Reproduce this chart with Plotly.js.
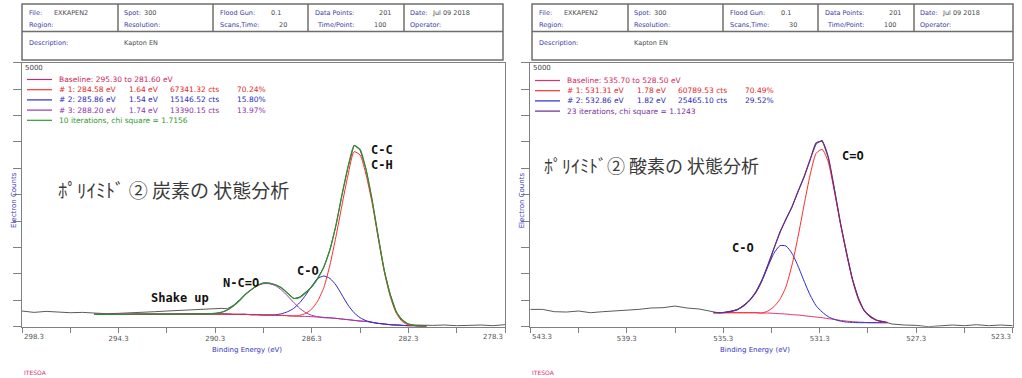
<!DOCTYPE html>
<html><head><meta charset="utf-8">
<script src="https://cdn.plot.ly/plotly-3.0.1.min.js"></script>
<style>html,body{margin:0;padding:0;background:#fff}#chart{width:1022px;height:378px}</style>
</head><body><div id="chart"></div>
<script>
// ---------------- DATA : C 1s panel ----------------
const c1sRawE = [298.30,297.80,297.30,296.80,296.30,295.80,295.30,294.80,294.30,293.80,293.30,292.80,292.30,291.80,291.30,290.80,290.55,
  290.30,290.05,289.80,289.55,289.30,289.05,288.80,288.55,288.30,288.05,287.80,287.55,287.30,287.05,286.80,286.55,286.30,286.05,285.80,285.55,
  285.30,285.05,284.80,284.55,284.30,284.05,283.80,283.55,283.30,283.05,282.80,282.55,282.30,282.05,281.80,281.55,
  281.30,280.80,280.30,279.80,279.30,278.80,278.30];
const c1sRaw = [297,271,290,271,265,271,253,246,253,259,271,284,297,309,322,335,341,
  347,347,341,404,505,619,701,783,833,821,789,739,638,530,562,650,751,928,1124,1465,
  1913,2506,3018,3441,3346,2980,2386,1717,1061,612,278,120,51,32,25,19,
  25,32,19,25,32,19,38];
const c1sFitE = [295.30,294.30,293.30,292.30,291.30,290.80,290.55,
  290.30,290.05,289.80,289.55,289.30,289.05,288.80,288.55,288.30,288.05,287.80,287.55,287.30,287.05,286.80,286.55,286.30,286.05,285.80,285.55,
  285.30,285.05,284.80,284.55,284.30,284.05,283.80,283.55,283.30,283.05,282.80,282.55,282.30,282.05,281.80,281.55];
const c1sBaseline = [234,234,237,237,240,240,240,
  240,240,240,234,234,234,227,227,221,221,215,215,208,202,196,196,189,183,170,164,
  158,145,133,120,107,101,82,63,51,38,32,25,19,19,13,13];
const c1sPeak1 = [234,234,237,237,240,240,240,
  240,240,240,234,234,234,227,227,221,221,215,215,208,202,215,253,335,492,745,1168,
  1705,2304,2872,3314,3251,2872,2336,1673,1042,568,253,95,32,19,13,13];
const c1sPeak2 = [234,234,237,237,240,240,240,
  240,240,240,234,234,234,227,227,221,221,227,246,284,347,455,600,770,915,960,915,
  789,600,410,265,170,114,82,63,51,38,32,25,19,19,13,13];
const c1sPeak3 = [234,234,237,237,240,243,248,
  253,271,316,391,492,606,701,777,814,814,777,694,581,461,347,265,215,189,177,170,
  158,145,133,120,107,101,82,63,51,38,32,25,19,19,13,13];
const c1sEnvelope = [234,234,237,237,240,243,248,
  253,271,316,391,492,612,707,783,827,827,795,732,631,537,556,644,758,915,1136,1452,
  1925,2494,3030,3428,3358,2967,2399,1705,1073,600,284,126,51,25,13,13];
const c1sTicks = [298.3,296.3,294.3,292.3,290.3,288.3,286.3,284.3,282.3,280.3,278.3];
const c1sTickText = ['298.3','','294.3','','290.3','','286.3','','282.3','','278.3'];
const c1sLegBaseline = 'Baseline: 295.30 to 281.60 eV';
const c1sLegPeak = ['# 1: 284.58 eV','# 2: 285.86 eV','# 3: 288.20 eV'];
const c1sLegFwhm = ['1.64 eV','1.54 eV','1.74 eV'];
const c1sLegArea = ['67341.32 cts','15146.52 cts','13390.15 cts'];
const c1sLegPct = ['70.24%','15.80%','13.97%'];
const c1sLegFit = '10 iterations, chi square = 1.7156';
const c1sTitle = 'ﾎﾟﾘｲﾐﾄﾞ ② 炭素の 状態分析';
const c1sPeakNames = ['C-C','C-H','C-O','N-C=O','Shake up'];

// ---------------- DATA : O 1s panel ----------------
const o1sRawE = [543.30,542.80,542.30,541.80,541.30,540.80,540.30,539.80,539.30,538.80,538.30,537.80,537.30,536.80,536.30,535.80,
  535.70,535.45,535.20,534.95,534.70,534.45,534.20,533.95,533.70,533.45,533.20,532.95,532.70,532.45,532.20,531.95,531.70,531.45,531.20,530.95,
  530.70,530.45,530.20,529.95,529.70,529.45,529.20,528.95,528.70,528.50,
  528.30,527.80,527.30,526.80,526.30,525.80,525.30,524.80,524.30,523.80,523.30];
const o1sRaw = [328,328,284,278,297,265,284,297,309,328,354,360,391,354,335,284,
  271,259,278,297,322,410,499,663,884,1155,1471,1799,2039,2266,2569,2828,3169,3460,3535,3207,
  2633,1970,1433,903,549,290,202,120,101,69,
  51,32,25,0,19,32,19,38,19,32,19];
const o1sFitE = [535.70,535.45,535.20,534.95,534.70,534.45,534.20,533.95,533.70,533.45,533.20,532.95,532.70,532.45,532.20,531.95,531.70,531.45,531.20,530.95,
  530.70,530.45,530.20,529.95,529.70,529.45,529.20,528.95,528.70,528.50];
const o1sBaseline = [265,265,265,265,265,265,265,265,259,259,253,246,240,227,221,208,196,183,170,152,139,120,107,95,88,82,76,76,76,76];
const o1sPeak1 = [265,265,265,265,265,265,265,265,259,297,379,518,758,1168,1705,2304,2872,3283,3358,3125,2576,1970,1401,896,518,297,177,120,88,76];
const o1sPeak2 = [265,265,271,290,328,398,505,650,865,1136,1389,1534,1528,1389,1149,865,600,398,278,189,139,107,88,82,76,76,76,76,76,76];
const o1sEnvelope = [265,265,271,290,328,398,505,650,871,1168,1484,1780,2033,2273,2557,2841,3157,3480,3510,3220,2620,1989,1420,915,537,303,189,126,95,82];
const o1sTicks = [543.3,541.3,539.3,537.3,535.3,533.3,531.3,529.3,527.3,525.3,523.3];
const o1sTickText = ['543.3','','539.3','','535.3','','531.3','','527.3','','523.3'];
const o1sLegBaseline = 'Baseline: 535.70 to 528.50 eV';
const o1sLegPeak = ['# 1: 531.31 eV','# 2: 532.86 eV'];
const o1sLegFwhm = ['1.78 eV','1.82 eV'];
const o1sLegArea = ['60789.53 cts','25465.10 cts'];
const o1sLegPct = ['70.49%','29.52%'];
const o1sLegFit = '23 iterations, chi square = 1.1243';
const o1sTitle = 'ﾎﾟﾘｲﾐﾄﾞ② 酸素の 状態分析';
const o1sPeakNames = ['C=O','C-O'];

// header texts
const headerLabels = ['File:','Region:','Spot:','Resolution:','Flood Gun:','Scans,Time:','Data Points:','Time/Point:','Date:','Operator:','Description:'];
const headerValuesC = ['EXKAPEN2','','300','','0.1','20','201','100','Jul 09 2018','','Kapton EN'];
const headerValuesO = ['EXKAPEN2','','300','','0.1','30','201','100','Jul 09 2018','','Kapton EN'];
const yTickVals = [0,500,1000,1500,2000,2500,3000,3500,4000,4500,5000];
const yTopLabel = '5000';
const xTitle = 'Binding Energy (eV)';
const yTitle = 'Electron Counts';
const footer = 'ITESOA';

// ---------------- LAYOUT HELPERS ----------------
const W = 1022, H = 378;
const px = x => x / W, py = y => 1 - y / H;
const FONT = 'DejaVu Sans';
const GRAY = '#808080';

function ln(x, y, color, xa, ya, w, smooth) {
  return {type:'scatter', mode:'lines', x:x, y:y, xaxis:xa, yaxis:ya,
    line:{color:color, width:w || 1, shape: smooth ? 'spline' : 'linear', smoothing: 0.6},
    hoverinfo:'skip', showlegend:false};
}

const traces = [
  ln(c1sRawE, c1sRaw, '#5a5a5a', 'x', 'y', 1, false),
  ln(c1sFitE, c1sBaseline, '#b8307a', 'x', 'y', 1, true),
  ln(c1sFitE, c1sPeak3, '#9a35b5', 'x', 'y', 1, true),
  ln(c1sFitE, c1sPeak2, '#2a2ac8', 'x', 'y', 1, true),
  ln(c1sFitE, c1sPeak1, '#ff2a2a', 'x', 'y', 1, true),
  ln(c1sFitE, c1sEnvelope, '#2e8f2e', 'x', 'y', 1.2, true),
  ln(o1sRawE, o1sRaw, '#5a5a5a', 'x2', 'y2', 1, false),
  ln(o1sFitE, o1sBaseline, '#e0306e', 'x2', 'y2', 1, true),
  ln(o1sFitE, o1sPeak2, '#2a2ac8', 'x2', 'y2', 1, true),
  ln(o1sFitE, o1sPeak1, '#ff2a2a', 'x2', 'y2', 1, true),
  ln(o1sFitE, o1sEnvelope, '#6a2c8c', 'x2', 'y2', 1.2, true)
];

function xAxis(dom, rng, ticks, text, anchor) {
  return {domain:dom, range:rng, anchor:anchor, showline:true, mirror:true, linecolor:GRAY, linewidth:1,
    showgrid:false, zeroline:false, ticks:'outside', ticklen:5, tickcolor:GRAY, tickwidth:1,
    tickvals:ticks, ticktext:text.map((t,i)=> (i===0||i===text.length-1)?'':t),
    tickfont:{family:FONT, size:7, color:'#555'}, ticklabelstandoff:0, fixedrange:true};
}
function yAxis(anchor) {
  return {domain:[py(326.7), py(62.7)], range:[0,5000], anchor:anchor, showline:true, mirror:true,
    linecolor:GRAY, linewidth:1, showgrid:false, zeroline:false, ticks:'outside', ticklen:8,
    tickcolor:GRAY, tickwidth:1, tickvals:yTickVals, showticklabels:false, fixedrange:true};
}

const shapes = [];
const annotations = [];
function txt(x, y, t, color, size, opts) {
  annotations.push(Object.assign({xref:'paper', yref:'paper', x:px(x), y:py(y), text:t, showarrow:false,
    xanchor:'left', yanchor:'middle', font:{family:FONT, size:size || 7, color:color}}, opts || {}));
}
function hl(x0, x1, y, color, w) {
  shapes.push({type:'line', xref:'paper', yref:'paper', x0:px(x0), x1:px(x1), y0:py(y), y1:py(y), line:{color:color, width:w || 1}});
}
function vl(x, y0, y1, color, w) {
  shapes.push({type:'line', xref:'paper', yref:'paper', x0:px(x), x1:px(x), y0:py(y0), y1:py(y1), line:{color:color, width:w || 1}});
}

// header tables
const labelPos = [[27,13],[27,25],[122,13],[122,25],[218,13],[218,25],[313,13],[315,25],[408,13],[408,25],[27,43]];
const valuePos = [[52,13],null,[142,13],null,[269,13],[277,25],[377,13],[372,25],[430,13],null,[122,43]];
function header(off, values) {
  shapes.push({type:'rect', xref:'paper', yref:'paper', x0:px(22+off), x1:px(503+off), y0:py(60), y1:py(4), line:{color:'#6e6e6e', width:1.5}});
  hl(22+off, 503+off, 31.5, '#6e6e6e', 1.5);
  [118,213,308,404].forEach(x => vl(x+off, 4, 31.5, '#6e6e6e', 1.5));
  headerLabels.forEach((l,i) => txt(labelPos[i][0]+off, labelPos[i][1], l, '#3a3aa8', 6.5));
  values.forEach((v,i) => { if (v && valuePos[i]) txt(valuePos[i][0]+off, valuePos[i][1], v, '#4a4a4a', 6.5); });
}
header(0, headerValuesC);
header(510, headerValuesO);

// legends inside plots
function legend(lx, tx, y0, rows) {
  rows.forEach((r, i) => {
    const y = y0 + i * 10.2;
    hl(lx, lx + 25, y, r.line, 1.2);
    r.cols.forEach((c, j) => txt(tx + [0,70,111,178][j], y, c, r.color, 7.5));
  });
}
const c1sRows = [{line:'#b8307a', color:'#c8285a', cols:[c1sLegBaseline]}];
const c1sCol = [['#ff3030','#e02828'],['#2a2ac8','#2a2ab8'],['#9a35b5','#9030a8']];
c1sLegPeak.forEach((p,i) => c1sRows.push({line:c1sCol[i][0], color:c1sCol[i][1], cols:[p, c1sLegFwhm[i], c1sLegArea[i], c1sLegPct[i]]}));
c1sRows.push({line:'#2e9a2e', color:'#2e9a2e', cols:[c1sLegFit]});
legend(27, 57, 79.5, c1sRows);
const o1sRows = [{line:'#e0306e', color:'#d02860', cols:[o1sLegBaseline]}];
o1sLegPeak.forEach((p,i) => o1sRows.push({line:c1sCol[i][0], color:c1sCol[i][1], cols:[p, o1sLegFwhm[i], o1sLegArea[i], o1sLegPct[i]]}));
o1sRows.push({line:'#6a2c8c', color:'#7a30a0', cols:[o1sLegFit]});
legend(535, 565, 80.5, o1sRows);

// axis decorations
[[0, c1sTickText],[508.3, o1sTickText]].forEach(([off, tt]) => {
  txt(22+off, 336.5, tt[0], '#555', 7);
  txt(505+off, 336.5, tt[tt.length-1], '#555', 7, {xanchor:'right'});
  txt(23+off, 68.5, yTopLabel, '#444', 7);
  txt(14+off, 200, yTitle, '#3535c0', 7, {xanchor:'center', textangle:-90});
  txt(247+off, 350, xTitle, '#3535c0', 7, {xanchor:'center'});
  txt(22+off, 372, footer, '#d8306a', 6);
});

// titles and peak labels (data coordinates)
function dtxt(xa, ya, x, y, t, font, size, color) {
  annotations.push({xref:xa, yref:ya, x:x, y:y, text:t, showarrow:false, xanchor:'center', yanchor:'middle',
    font:{family:font, size:size, color:color}});
}
const MONO = 'DejaVu Sans Mono';
dtxt('x','y', 292.01, 2608, c1sTitle, 'Noto Sans CJK JP', 19, '#3a3a3a');
dtxt('x2','y2', 538.28, 3063, o1sTitle, 'Noto Sans CJK JP', 18, '#3a3a3a');
const c1sLabelPos = [[283.39,3347],[283.39,3063],[286.46,1055],[289.23,828],[291.76,544]];
c1sPeakNames.forEach((n,i) => dtxt('x','y', c1sLabelPos[i][0], c1sLabelPos[i][1], '<b>'+n+'</b>', MONO, 12, '#111'));
const o1sLabelPos = [[529.92,3233],[534.48,1491]];
o1sPeakNames.forEach((n,i) => dtxt('x2','y2', o1sLabelPos[i][0], o1sLabelPos[i][1], '<b>'+n+'</b>', MONO, 12, '#111'));

const layout = {
  width:W, height:H, margin:{l:0, r:0, t:0, b:0}, paper_bgcolor:'#fff', plot_bgcolor:'#fff', showlegend:false,
  xaxis: xAxis([px(22), px(505)], [298.3, 278.3], c1sTicks, c1sTickText, 'y'),
  yaxis: yAxis('x'),
  xaxis2: xAxis([px(530.3), px(1012.7)], [543.3, 523.3], o1sTicks, o1sTickText, 'y2'),
  yaxis2: yAxis('x2'),
  shapes: shapes, annotations: annotations
};
Plotly.newPlot('chart', traces, layout, {staticPlot:true, displayModeBar:false});
</script></body></html>
